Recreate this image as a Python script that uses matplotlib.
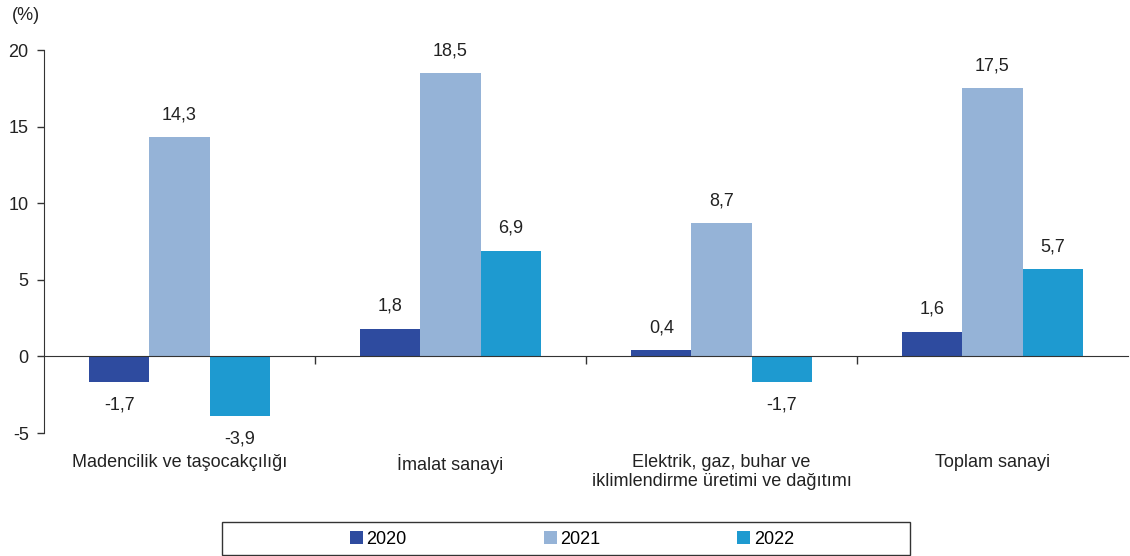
import numpy as np
import matplotlib.pyplot as plt
from matplotlib.patches import Patch, Rectangle

categories = ["Madencilik ve taşocakçılığı", "İmalat sanayi",
              "Elektrik, gaz, buhar ve\niklimlendirme üretimi ve dağıtımı", "Toplam sanayi"]
years = ["2020", "2021", "2022"]
v2020 = [-1.7, 1.8, 0.4, 1.6]
v2021 = [14.3, 18.5, 8.7, 17.5]
v2022 = [-3.9, 6.9, -1.7, 5.7]
colors = ["#2E4B9F", "#95B3D7", "#1E9AD0"]

plt.rcParams['font.family'] = ['Liberation Sans', 'DejaVu Sans']
fs = 13

fig = plt.figure(figsize=(11.3, 5.56), dpi=100)
ax = fig.add_axes([44 / 1130, 1 - 433 / 556, 1084 / 1130, 383 / 556])

x = np.arange(len(categories))
w = 0.222
series = [v2020, v2021, v2022]
for i, (vals, c) in enumerate(zip(series, colors)):
    pos = x + (i - 1) * w
    ax.bar(pos, vals, width=w, color=c, label=years[i])
    for px, v in zip(pos, vals):
        off = 10 if v >= 0 else -10
        ax.annotate(f"{v:.1f}".replace(".", ","), (px, v), xytext=(0, off),
                    textcoords="offset points", ha="center",
                    va="bottom" if v >= 0 else "top", fontsize=fs, color="#222222")

ax.set_xlim(-0.5, len(categories) - 0.5)
ax.set_ylim(-5, 20)
ax.set_yticks([-5, 0, 5, 10, 15, 20])
ax.set_yticklabels(["-5", "0", "5", "10", "15", "20"], fontsize=fs)
ax.tick_params(axis="y", length=5, width=1, color="#333333", pad=6, labelcolor="#222222")

ax.spines["top"].set_visible(False)
ax.spines["right"].set_visible(False)
ax.spines["left"].set_color("#333333")
ax.spines["bottom"].set_position(("data", 0))
ax.spines["bottom"].set_color("#333333")
ax.set_xticks(np.arange(len(categories) - 1) + 0.5)
ax.set_xticklabels([])
ax.tick_params(axis="x", length=6, width=1, color="#333333", direction="out")

for xi, cat in zip(x, categories):
    ax.annotate(cat, (xi, -5), xytext=(0, -15), textcoords="offset points",
                ha="center", va="top", fontsize=fs, color="#222222", linespacing=1.2)

fig.text(12 / 1130, 1 - 15 / 556, "(%)", fontsize=fs, va="center", ha="left", color="#222222")

# legend frame drawn separately, entries centred inside it
fig.patches.append(Rectangle((222 / 1130, 1 / 556), 688 / 1130, 33 / 556,
                             transform=fig.transFigure, fill=False,
                             edgecolor="#333333", linewidth=1))
handles = [Patch(facecolor=c, edgecolor="none") for c in colors]
fig.legend(handles, years, loc="center", ncol=3,
           bbox_to_anchor=(572 / 1130, 1 - 539 / 556),
           fontsize=fs, frameon=False, borderaxespad=0,
           handlelength=0.7, handleheight=0.7, handletextpad=0.2,
           columnspacing=7.6)

fig.savefig("out.png", dpi=100)
